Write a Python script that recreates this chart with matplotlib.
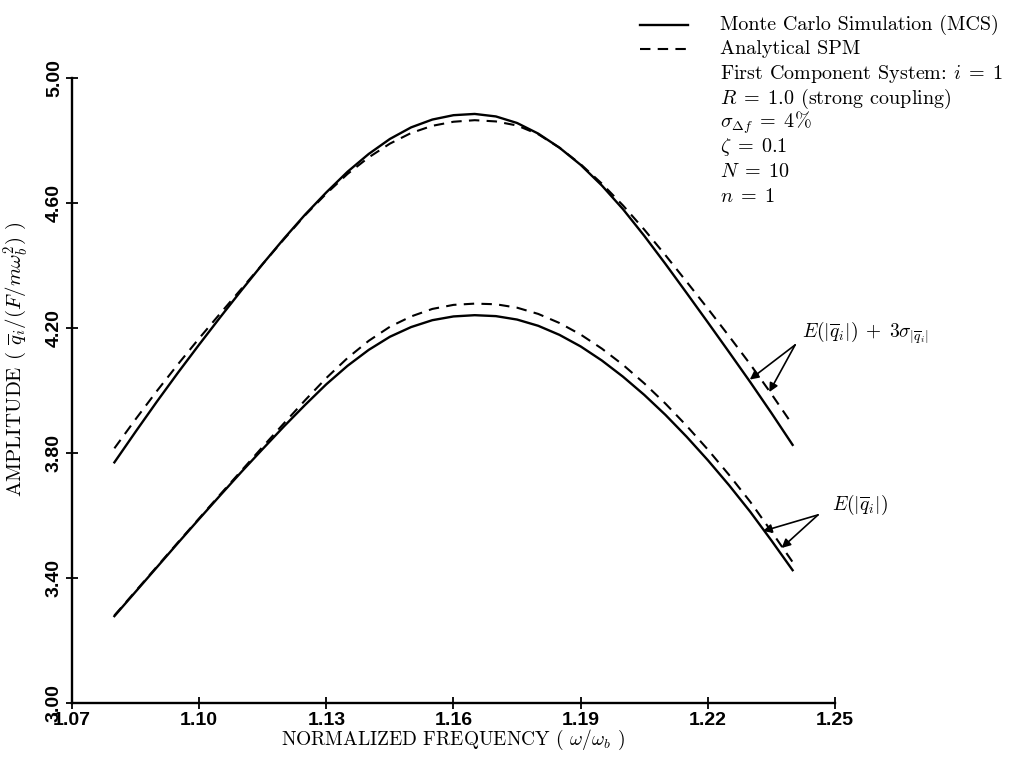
import matplotlib
matplotlib.use("Agg")
import matplotlib.pyplot as plt
from matplotlib.lines import Line2D

plt.rcParams['font.family'] = 'serif'
plt.rcParams['font.serif'] = ['cmr10', 'DejaVu Serif']
plt.rcParams['mathtext.fontset'] = 'cm'
plt.rcParams['axes.unicode_minus'] = False

# normalized frequency samples
freq = [1.080, 1.085, 1.090, 1.095, 1.100, 1.105, 1.110, 1.115, 1.120,
        1.125, 1.130, 1.135, 1.140, 1.145, 1.150, 1.155, 1.160, 1.165,
        1.170, 1.175, 1.180, 1.185, 1.190, 1.195, 1.200, 1.205, 1.210,
        1.215, 1.220, 1.225, 1.230, 1.235, 1.240]

# E(|q|) + 3 sigma
upper_mcs = [3.770, 3.868, 3.964, 4.057, 4.147, 4.235, 4.321, 4.405, 4.486,
             4.563, 4.634, 4.700, 4.757, 4.805, 4.842, 4.867, 4.881, 4.885,
             4.877, 4.856, 4.822, 4.777, 4.722, 4.656, 4.580, 4.495, 4.405,
             4.312, 4.218, 4.123, 4.027, 3.928, 3.826]
upper_spm = [3.815, 3.908, 3.998, 4.084, 4.167, 4.247, 4.326, 4.405, 4.484,
             4.561, 4.630, 4.693, 4.746, 4.790, 4.824, 4.847, 4.860, 4.865,
             4.861, 4.848, 4.820, 4.777, 4.724, 4.662, 4.592, 4.515, 4.433,
             4.348, 4.262, 4.174, 4.084, 3.989, 3.890]

# E(|q|)
mean_mcs = [3.278, 3.356, 3.434, 3.512, 3.589, 3.665, 3.740, 3.813, 3.885,
            3.954, 4.020, 4.079, 4.130, 4.172, 4.203, 4.225, 4.237, 4.241,
            4.238, 4.227, 4.207, 4.178, 4.141, 4.096, 4.044, 3.986, 3.922,
            3.852, 3.777, 3.697, 3.612, 3.520, 3.425]
mean_spm = [3.280, 3.358, 3.436, 3.514, 3.591, 3.668, 3.744, 3.820, 3.895,
            3.969, 4.040, 4.104, 4.159, 4.204, 4.237, 4.261, 4.274, 4.278,
            4.276, 4.265, 4.245, 4.216, 4.179, 4.134, 4.082, 4.023, 3.958,
            3.887, 3.811, 3.730, 3.644, 3.549, 3.451]

xticks = [1.07, 1.10, 1.13, 1.16, 1.19, 1.22, 1.25]
yticks = [3.00, 3.40, 3.80, 4.20, 4.60, 5.00]

legend_lines = ['Monte Carlo Simulation (MCS)', 'Analytical SPM',
                'First Component System: $i\\;=\\;1$',
                '$R\\;=\\;1.0$ (strong coupling)',
                '$\\sigma_{\\Delta f}\\;=\\;4\\%$',
                '$\\zeta\\;=\\;0.1$', '$N\\;=\\;10$', '$n\\;=\\;1$']

W, H = 1011, 760
fig = plt.figure(figsize=(W / 100, H / 100), dpi=100)
ax = fig.add_axes([72 / W, 1 - 703 / H, (835 - 72) / W, (703 - 78) / H])

dash = (5, 3.5)
ax.plot(freq, upper_mcs, color='k', lw=1.7)
ax.plot(freq, upper_spm, color='k', lw=1.5, dashes=dash)
ax.plot(freq, mean_mcs, color='k', lw=1.7)
ax.plot(freq, mean_spm, color='k', lw=1.5, dashes=dash)

ax.set_xlim(1.07, 1.25)
ax.set_ylim(3.0, 5.0)
ax.spines['top'].set_visible(False)
ax.spines['right'].set_visible(False)
ax.spines['left'].set_linewidth(1.7)
ax.spines['bottom'].set_linewidth(1.7)

tickfont = dict(family=['Liberation Sans Narrow', 'Liberation Sans'],
                weight='bold', size=14)
ax.set_xticks(xticks)
ax.set_xticklabels([f'{t:.2f}' for t in xticks], **tickfont)
ax.set_yticks(yticks)
ax.set_yticklabels([f'{t:.2f}' for t in yticks], rotation=90, va='center',
                   **tickfont)
ax.tick_params(direction='inout', length=9, width=1.3, pad=2)

ax.set_xlabel('NORMALIZED FREQUENCY ( $\\omega/\\omega_b$ )', fontsize=14)
ax.xaxis.set_label_coords(0.5, -0.04)
ax.set_ylabel('AMPLITUDE ( $\\overline{q}_i/(F/m\\omega_b^2)$ )',
              fontsize=15)
ax.yaxis.set_label_coords(-0.055, 0.55)

arrow = dict(arrowstyle='-|>', color='k', lw=1.2, mutation_scale=13,
             shrinkA=0, shrinkB=0)
# E + 3 sigma pointers
ax.annotate('', xy=(1.2299, 4.035), xytext=(1.2406, 4.146), arrowprops=arrow)
ax.annotate('', xy=(1.2345, 3.995), xytext=(1.2406, 4.146), arrowprops=arrow)
ax.text(1.2421, 4.184,
        '$E(|\\overline{q}_i|)\\;+\\;3\\sigma_{|\\overline{q}_i|}$',
        fontsize=14, va='center', ha='left')
# mean pointers
ax.annotate('', xy=(1.2330, 3.550), xytext=(1.2460, 3.602), arrowprops=arrow)
ax.annotate('', xy=(1.2374, 3.496), xytext=(1.2460, 3.602), arrowprops=arrow)
ax.text(1.2492, 3.634, '$E(|\\overline{q}_i|)$', fontsize=14,
        va='center', ha='left')

# key in the upper right corner
fig.add_artist(Line2D([640 / W, 688 / W], [1 - 25 / H, 1 - 25 / H],
                      color='k', lw=1.7))
fig.add_artist(Line2D([640 / W, 688 / W], [1 - 49 / H, 1 - 49 / H],
                      color='k', lw=1.5, dashes=dash))
for i, s in enumerate(legend_lines):
    fig.text(720 / W, 1 - (25 + 24.5 * i) / H, s, fontsize=14.5,
             va='center', ha='left')

fig.savefig('out.png', dpi=100)
